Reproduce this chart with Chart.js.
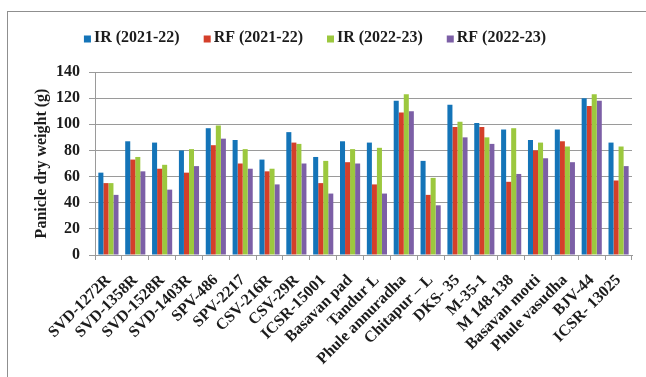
<!DOCTYPE html>
<html>
<head>
<meta charset="utf-8">
<script src="https://cdn.jsdelivr.net/npm/chart.js@4/dist/chart.umd.min.js"></script>
<style>
  html, body { margin: 0; padding: 0; background: #ffffff; }
  #wrap { position: relative; width: 646px; height: 377px; }
  canvas { display: block; }
</style>
</head>
<body>
<div id="wrap"><canvas id="c" width="646" height="377"></canvas></div>
<script>
// Genotypes on the category axis
const genotypes = [
  "SVD-1272R", "SVD-1358R", "SVD-1528R", "SVD-1403R", "SPV-486", "SPV-2217",
  "CSV-216R", "CSV-29R", "ICSR-15001", "Basavan pad", "Tandur L", "Phule annuradha",
  "Chitapur \u2013 L", "DKS- 35", "M-35-1", "M 148-138", "Basavan motti",
  "Phule vasudha", "BJV-44", "ICSR- 13025"
];

// Series names
const seriesNames = ["IR (2021-22)", "RF (2021-22)", "IR (2022-23)", "RF (2022-23)"];

// Panicle dry weight (g) per genotype, one array per season/condition
const irSeason1 = [63, 87, 86, 80, 97, 88, 73, 94, 75, 87, 86, 118, 72, 115, 101, 96, 88, 96, 120, 86];
const rfSeason1 = [55, 73, 66, 63, 84, 70, 64, 86, 55, 71, 54, 109, 46, 98, 98, 56, 80, 87, 114, 57];
const irSeason2 = [55, 75, 69, 81, 99, 81, 66, 85, 72, 81, 82, 123, 59, 102, 90, 97, 86, 83, 123, 83];
const rfSeason2 = [46, 64, 50, 68, 89, 66, 54, 70, 47, 70, 47, 110, 38, 90, 85, 62, 74, 71, 118, 68];

// Y axis ticks
const yTicks = [0, 20, 40, 60, 80, 100, 120, 140];

const seriesColors = ["#1474B8", "#D43F2A", "#9CC83E", "#7C5FA6"];
const serif = '"Liberation Serif", "Times New Roman", serif';
const inkColor = "#1c1c1c";
const lineGray = "#9a9a9a";

// Outer frame around the figure
const framePlugin = {
  id: "frame",
  beforeDraw(chart) {
    const ctx = chart.ctx;
    ctx.save();
    ctx.fillStyle = "#ffffff";
    ctx.fillRect(0, 0, chart.width, chart.height);
    ctx.strokeStyle = "#8f8f8f";
    ctx.lineWidth = 1;
    ctx.strokeRect(7.5, 11.5, chart.width + 20, chart.height + 20);
    ctx.restore();
  }
};

// Legend row above the plot: small square swatches followed by the series name
const legendRowPlugin = {
  id: "legendRow",
  afterDraw(chart, args, opts) {
    const ctx = chart.ctx;
    ctx.save();
    ctx.font = "bold 16px " + serif;
    ctx.textBaseline = "middle";
    ctx.textAlign = "left";
    const items = chart.data.datasets.map(ds => ({
      text: ds.label,
      color: ds.backgroundColor,
      w: ctx.measureText(ds.label).width
    }));
    const box = opts.box, gap = opts.gap, spacing = opts.spacing;
    const total = items.reduce((s, it) => s + box + gap + it.w, 0) + spacing * (items.length - 1);
    let x = opts.centerX - total / 2;
    const y = opts.y;
    items.forEach(it => {
      ctx.fillStyle = it.color;
      ctx.fillRect(x, y - box / 2 + 1, box, box);
      x += box + gap;
      ctx.fillStyle = inkColor;
      ctx.fillText(it.text, x, y);
      x += it.w + spacing;
    });
    ctx.restore();
  }
};

const datasets = [irSeason1, rfSeason1, irSeason2, rfSeason2].map((vals, i) => ({
  label: seriesNames[i],
  data: vals,
  backgroundColor: seriesColors[i],
  borderWidth: 0,
  categoryPercentage: 0.75,
  barPercentage: 1.0
}));

new Chart(document.getElementById("c"), {
  type: "bar",
  data: { labels: genotypes, datasets: datasets },
  plugins: [framePlugin, legendRowPlugin],
  options: {
    responsive: false,
    animation: false,
    devicePixelRatio: 1,
    layout: { padding: { top: 72, left: 20, right: 14, bottom: 0 } },
    plugins: {
      legend: { display: false },
      tooltip: { enabled: false },
      legendRow: { centerX: 315, y: 38, box: 7, gap: 3, spacing: 24 }
    },
    scales: {
      x: {
        grid: {
          display: true,
          offset: true,
          drawOnChartArea: false,
          drawTicks: true,
          tickLength: 5,
          color: lineGray
        },
        border: { display: true, color: lineGray, width: 1 },
        ticks: {
          autoSkip: false,
          minRotation: 45,
          maxRotation: 45,
          padding: 11,
          color: inkColor,
          font: { family: serif, size: 16, weight: "bold" }
        },
        afterFit(scale) { scale.height = 122; }
      },
      y: {
        min: 0,
        max: 140,
        afterBuildTicks(scale) { scale.ticks = yTicks.map(v => ({ value: v })); },
        grid: {
          color: lineGray,
          lineWidth: 1,
          drawTicks: true,
          tickLength: 6
        },
        border: { display: true, color: lineGray, width: 1 },
        ticks: {
          padding: 9,
          color: inkColor,
          font: { family: serif, size: 16, weight: "bold" }
        },
        title: {
          display: true,
          text: "Panicle dry weight (g)",
          color: inkColor,
          padding: { top: 12, bottom: 0 },
          font: { family: serif, size: 16, weight: "bold" }
        },
        afterFit(scale) { scale.width = 75; }
      }
    }
  }
});
</script>
</body>
</html>
